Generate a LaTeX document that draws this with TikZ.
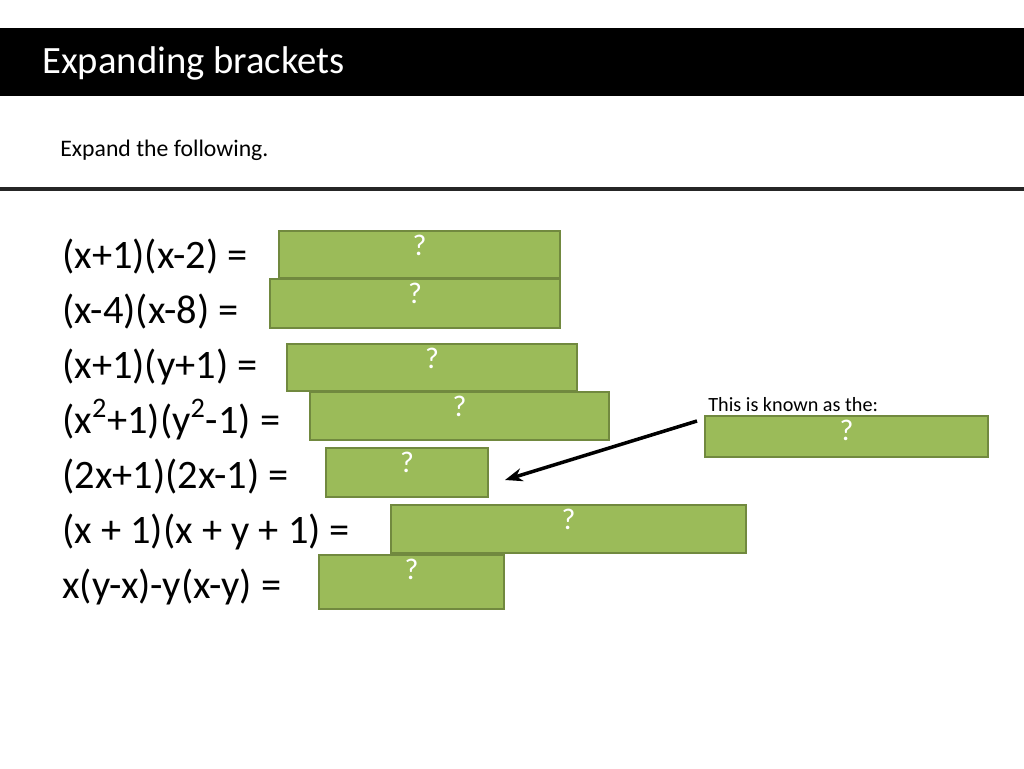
\documentclass[tikz,border=0pt]{standalone}
\usepackage{fontspec}
\setmainfont{Carlito}
\usetikzlibrary{arrows.meta}
\definecolor{boxgreen}{HTML}{9BBB59}
\definecolor{boxedge}{HTML}{71893F}
\tikzset{
  eqn/.style={anchor=base west, inner sep=0pt, font=\fontsize{23}{26}\selectfont},
  answer/.style={draw=boxedge, fill=boxgreen, line width=1.2pt, text=white,
    font=\fontsize{17}{20}\selectfont}
}
\begin{document}
\begin{tikzpicture}[x=0.02cm, y=-0.02cm]
  \useasboundingbox (0,0) rectangle (1024,768);
  \fill[black] (0,28) rectangle (1024,96);
  \node[anchor=west, inner sep=0pt, text=white, font=\fontsize{22}{26}\selectfont] (title) at (42,63) {Expanding brackets};
  \node[anchor=west, inner sep=0pt, font=\fontsize{13.5}{16}\selectfont] (task) at (60,150) {Expand the following.};
  \draw[line width=2pt, black!85] (0,189) -- (1024,189);
  % equations
  \node[eqn] (e1) at (62,268) {(x+1)(x-2) =};
  \node[eqn] (e2) at (62,323) {(x-4)(x-8) =};
  \node[eqn] (e3) at (62,378) {(x+1)(y+1) =};
  \node[eqn] (e4) at (62,433) {(x\textsuperscript{2}+1)(y\textsuperscript{2}-1) =};
  \node[eqn] (e5) at (62,488) {(2x+1)(2x-1) =};
  \node[eqn] (e6) at (62,543) {(x + 1)(x + y + 1) =};
  \node[eqn] (e7) at (62,598) {x(y-x)-y(x-y) =};
  % answer boxes
  \foreach \n/\xa/\ya/\xb/\yb in {1/279/231/560/278, 2/270/279/560/328, 3/287/344/577/391,
      4/310/392/609/440, 5/326/448/488/497, 6/391/505/746/553, 7/319/555/504/609, 8/705/416/988/457}{
    \draw[boxedge, fill=boxgreen, line width=1.2pt] (\xa,\ya) rectangle (\xb,\yb);
    \node[text=white, font=\fontsize{17}{20}\selectfont, anchor=north, inner sep=2pt] (a\n) at ({(\xa+\xb)/2},\ya) {?};
  }
  \node[anchor=west, inner sep=0pt, font=\fontsize{11.5}{14}\selectfont] (known) at (708,405) {This is known as the:};
  \coordinate (tail) at (697,421);
  \coordinate (tip) at (505,480);
  \draw[-{Stealth[length=10pt]}, line width=2pt] (tail) -- (tip);
\end{tikzpicture}
\end{document}
